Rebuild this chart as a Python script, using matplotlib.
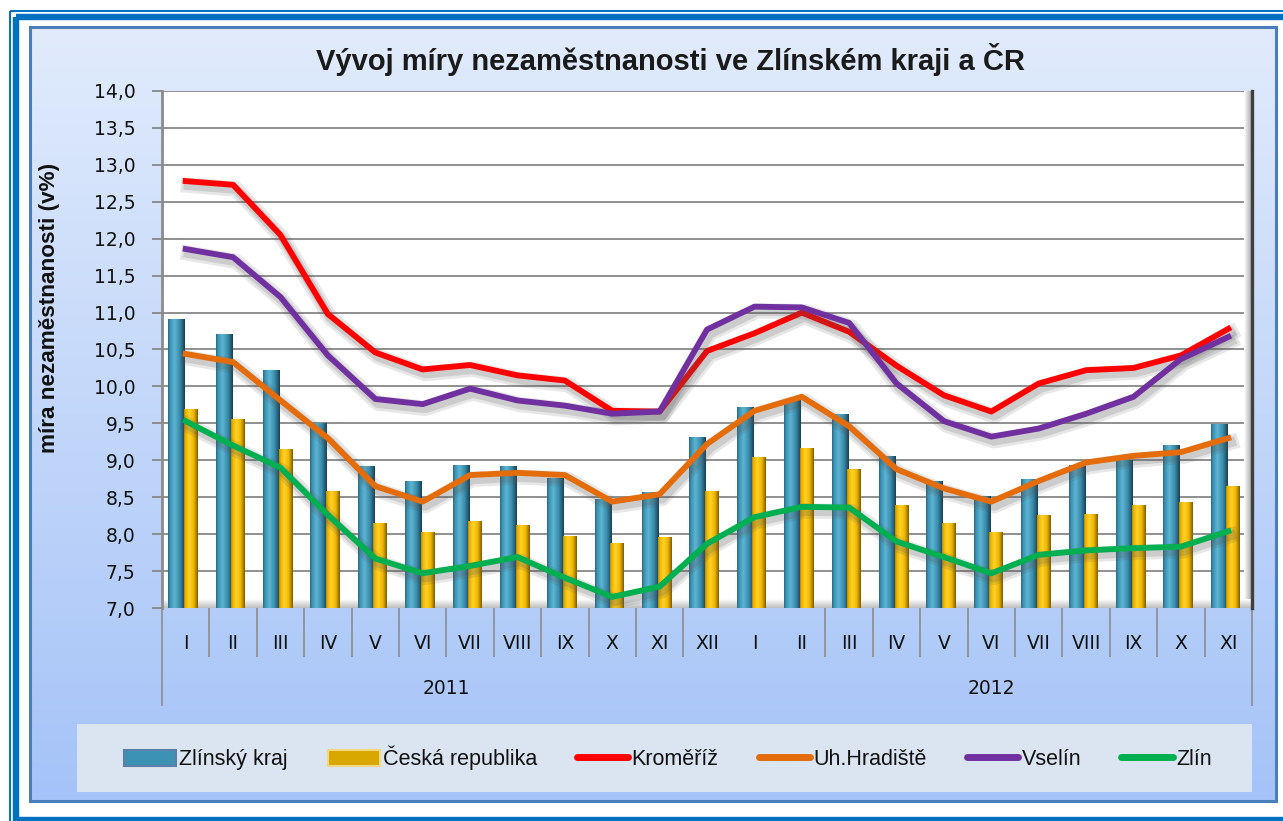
import numpy as np
import matplotlib
matplotlib.use('Agg')
import matplotlib.pyplot as plt
from matplotlib.patches import Rectangle, Patch
from matplotlib.lines import Line2D
from matplotlib.colors import LinearSegmentedColormap, to_rgb
import matplotlib.patheffects as pe
import matplotlib.transforms as mtransforms

# ---------------- data ----------------
months = ['I', 'II', 'III', 'IV', 'V', 'VI', 'VII', 'VIII', 'IX', 'X', 'XI', 'XII',
          'I', 'II', 'III', 'IV', 'V', 'VI', 'VII', 'VIII', 'IX', 'X', 'XI']
years = ['2011', '2012']
year_counts = [12, 11]

zlinsky_kraj = [10.91, 10.71, 10.22, 9.50, 8.92, 8.72, 8.93, 8.92, 8.76, 8.47, 8.57, 9.32,
                9.72, 9.82, 9.63, 9.06, 8.72, 8.51, 8.75, 8.93, 9.00, 9.21, 9.49]
ceska_republika = [9.70, 9.56, 9.15, 8.58, 8.15, 8.03, 8.18, 8.12, 7.97, 7.88, 7.96, 8.58,
                   9.04, 9.16, 8.88, 8.40, 8.15, 8.03, 8.26, 8.27, 8.40, 8.44, 8.65]
kromeriz = [12.78, 12.73, 12.05, 10.98, 10.46, 10.23, 10.29, 10.15, 10.08, 9.67, 9.66, 10.48,
            10.72, 11.00, 10.74, 10.28, 9.88, 9.66, 10.04, 10.22, 10.25, 10.42, 10.78]
uh_hradiste = [10.44, 10.33, 9.81, 9.30, 8.65, 8.44, 8.80, 8.83, 8.80, 8.44, 8.54, 9.22,
               9.67, 9.86, 9.46, 8.88, 8.62, 8.44, 8.72, 8.97, 9.06, 9.11, 9.30]
vsetin = [11.86, 11.75, 11.21, 10.42, 9.83, 9.76, 9.97, 9.81, 9.74, 9.63, 9.66, 10.77,
          11.08, 11.07, 10.86, 10.04, 9.53, 9.32, 9.43, 9.63, 9.86, 10.37, 10.67]
zlin = [9.53, 9.20, 8.90, 8.26, 7.67, 7.47, 7.57, 7.69, 7.41, 7.15, 7.29, 7.87,
        8.23, 8.37, 8.36, 7.90, 7.69, 7.47, 7.72, 7.78, 7.81, 7.83, 8.04]

line_series = [('Kroměříž', kromeriz, '#FF0000'),
               ('Uh.Hradiště', uh_hradiste, '#E46C0A'),
               ('Vselín', vsetin, '#7030A0'),
               ('Zlín', zlin, '#00B050')]

title = 'Vývoj míry nezaměstnanosti ve Zlínském kraji a ČR'
ylabel = 'míra nezaměstnanosti (v%)'

# ---------------- figure ----------------
W, H = 1283, 821
fig = plt.figure(figsize=(W / 100, H / 100), dpi=100)
fig.patch.set_facecolor('white')
SANS = ['Liberation Sans', 'DejaVu Sans']
TICKF = ['DejaVu Sans']


def fx(px):
    return px / W


def fy(py):
    return 1 - py / H


def vgrad(c0, c1, n=256):
    a = np.array(to_rgb(c0))
    b = np.array(to_rgb(c1))
    t = np.linspace(0, 1, n)[:, None]
    return (a * (1 - t) + b * t)[:, None, :]


# background / frames
bg = fig.add_axes([0, 0, 1, 1], zorder=0)
bg.set_xlim(0, W)
bg.set_ylim(H, 0)
bg.axis('off')
bg.add_patch(Rectangle((10, 11), W + 40, H + 40, fill=False, ec='#0070C0', lw=1.4))
bg.add_patch(Rectangle((16, 17), W + 40, 803, fill=False, ec='#0070C0', lw=4.6))
bg.imshow(vgrad('#E1EBFC', '#A5C3F8'), extent=(29.5, 1275.5, 801.5, 27.5),
          aspect='auto', origin='upper', zorder=1)
bg.add_patch(Rectangle((29.5, 27.5), 1246, 774, fill=False, ec='#4A7EBB', lw=2.2, zorder=2))
bg.add_patch(Rectangle((77, 724), 1175, 68, fc='#DBE5F1', ec='none', zorder=2))
bg.set_xlim(0, W)
bg.set_ylim(H, 0)

fig.text(fx(671), fy(60), title, ha='center', va='center', fontsize=21,
         fontweight='bold', family=SANS, color='#1A1A1A')
fig.text(fx(50), fy(308), ylabel, ha='center', va='center', rotation=90,
         fontsize=16.2, fontweight='bold', family=SANS, color='#111111')

# ---------------- main axes ----------------
L, R, T, B = 162, 1252, 91, 608
ax = fig.add_axes([fx(L), fy(B), (R - L) / W, (B - T) / H], zorder=2)
ax.set_facecolor('white')
x = np.arange(len(months))

teal_cmap = LinearSegmentedColormap.from_list(
    'teal', [(0, '#2A6983'), (0.12, '#3C92B2'), (0.38, '#5CB5D3'),
             (0.7, '#3A8CAB'), (0.88, '#24607A'), (1, '#183F50')])
gold_cmap = LinearSegmentedColormap.from_list(
    'gold', [(0, '#B58800'), (0.12, '#EDB500'), (0.38, '#FFD22A'),
             (0.7, '#F0B700'), (0.88, '#B08400'), (1, '#7A5B00')])
grad = np.linspace(0, 1, 64).reshape(1, -1)


def grad_bars(xpos, vals, width, cmap, z):
    bars = ax.bar(xpos, vals, width=width, color='none', edgecolor='none', zorder=z)
    for b in bars:
        x0 = b.get_x()
        im = ax.imshow(grad, cmap=cmap, extent=(x0, x0 + b.get_width(), 7, b.get_height()),
                       aspect='auto', zorder=z, interpolation='bilinear')
        im.set_clip_path(b)
    return bars


# floor
ax.imshow(vgrad('#FFFFFF', '#BDBDBD'), extent=(-0.5, 22.5, 7.0, 7.12),
          aspect='auto', origin='upper', zorder=1.5)

grad_bars(x - 0.2, zlinsky_kraj, 0.34, teal_cmap, 2)
grad_bars(x + 0.1, ceska_republika, 0.28, gold_cmap, 2.1)

for name, vals, col in line_series:
    ax.plot(x, vals, color=col, lw=4.2, zorder=4, solid_joinstyle='round',
            path_effects=[pe.SimpleLineShadow(offset=(2, -3), shadow_color='#555555',
                                              alpha=0.14, linewidth=11),
                          pe.SimpleLineShadow(offset=(2, -3), shadow_color='#555555',
                                              alpha=0.18, linewidth=7),
                          pe.Normal()])

# right wall shading
ax.imshow(np.linspace(0, 1, 32).reshape(1, -1), cmap=LinearSegmentedColormap.from_list(
    'w', ['#FFFFFF', '#9A9A9A']), extent=(22.33, 22.5, 7, 14), aspect='auto', zorder=1.2)

ax.set_xlim(-0.5, 22.5)
ax.set_ylim(7, 14)
ax.set_axisbelow(True)

yt = np.arange(7, 14.01, 0.5)
ax.set_yticks(yt)
ax.set_yticklabels([f'{v:.1f}'.replace('.', ',') for v in yt], family=TICKF, fontsize=13.5)
ax.yaxis.grid(True, color='#878787', lw=1.3, zorder=1)
ax.tick_params(axis='y', length=7, width=1.3, color='#878787', pad=12, labelcolor='#111111')

# category axis
sep = [i + 0.5 for i in range(len(months) - 1) if i not in (11, 12)]
ax.set_xticks(sep)
ax.set_xticklabels([])
ax.set_xticks(x, minor=True)
ax.set_xticklabels(months, minor=True, family=TICKF, fontsize=13.5, color='#111111')
ax.tick_params(axis='x', which='major', length=35, width=1.2, color='#8C8C8C')
ax.tick_params(axis='x', which='minor', length=0, pad=19)

blend = mtransforms.blended_transform_factory(ax.transData, ax.transAxes)
ylong = -(705 - B) / (B - T)
for xv in (-0.5, 22.5):
    ax.plot([xv, xv], [0, ylong], transform=blend, clip_on=False, color='#8C8C8C', lw=1.2)
start = 0
for yr, n in zip(years, year_counts):
    ax.text(start + (n - 1) / 2, -(688 - B) / (B - T), yr, transform=blend,
            ha='center', va='center', family=TICKF, fontsize=13.5, color='#111111')
    start += n

for s in ('top', 'bottom'):
    ax.spines[s].set_visible(False)
ax.spines['left'].set_color('#8C8C8C')
ax.spines['left'].set_linewidth(2)
ax.spines['right'].set_color('#3F3F3F')
ax.spines['right'].set_linewidth(2.4)

# ---------------- legend ----------------
handles = [Patch(facecolor='#3C92B2', edgecolor='#5B7FA8', lw=1.5),
           Patch(facecolor='#D9A800', edgecolor='#F0D780', lw=1.5)]
labels = ['Zlínský kraj', 'Česká republika']
for name, vals, col in line_series:
    handles.append(Line2D([], [], color=col, lw=5, solid_capstyle='round'))
    labels.append(name)
fig.legend(handles, labels, loc='center', bbox_to_anchor=(fx(668), fy(758)), ncol=6,
           frameon=False, prop={'family': SANS, 'size': 15.5}, handlelength=2.4,
           handleheight=0.8, handletextpad=0.15, columnspacing=1.85, labelcolor='#111111')

fig.savefig('out.png', dpi=100, facecolor=fig.get_facecolor())
